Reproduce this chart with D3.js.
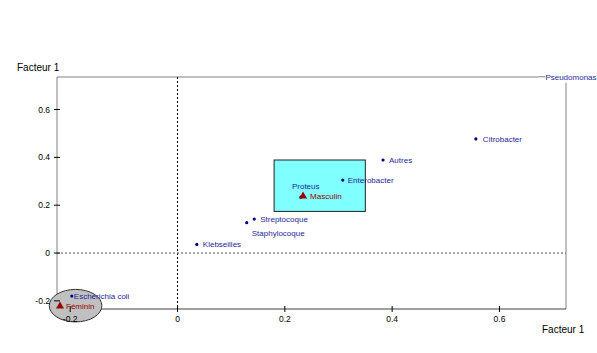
<!DOCTYPE html>
<html>
<head>
<meta charset="utf-8">
<script src="https://cdn.jsdelivr.net/npm/d3@7"></script>
<style>
  body { margin: 0; background: #fff; }
  text { font-family: "Liberation Sans", Arial, sans-serif; }
</style>
</head>
<body>
<div id="chart"></div>
<script>
// bacteria (blue points)
const germes = ['Pseudomonas', 'Citrobacter', 'Autres', 'Enterobacter', 'Proteus',
  'Streptocoque', 'Staphylocoque', 'Klebseilles', 'Escherichia coli'];
const germesX = [0.680, 0.556, 0.383, 0.308, 0.230, 0.143, 0.129, 0.036, -0.197];
const germesY = [0.737, 0.477, 0.389, 0.305, 0.234, 0.142, 0.127, 0.036, -0.180];

// sex modalities (red triangles)
const sexes = ['Masculin', 'Féminin'];
const sexesX = [0.234, -0.219];
const sexesY = [0.238, -0.222];

// zones around the modalities
const boxX = [0.180, 0.350], boxY = [0.174, 0.389];
const ellCx = -0.190, ellCy = -0.220, ellRx = 0.049, ellRy = 0.068;

const xTicks = [-0.2, 0, 0.2, 0.4, 0.6];
const yTicks = [-0.2, 0, 0.2, 0.4, 0.6];

// label placement (px offsets from the point)
const labelPos = {
  'Pseudomonas': [3, 0], 'Citrobacter': [7, 0], 'Autres': [6, 0], 'Enterobacter': [5, 0],
  'Proteus': [-9, -11], 'Streptocoque': [6, 0], 'Staphylocoque': [5, 10],
  'Klebseilles': [6, 0], 'Escherichia coli': [2, 0]
};

const W = 597, H = 353;
const svg = d3.select('#chart').append('svg').attr('width', W).attr('height', H);

const x = d3.scaleLinear().domain([-0.2246, 0.724]).range([57, 566]);
const y = d3.scaleLinear().domain([-0.234, 0.736]).range([309, 77]);

// frame
svg.append('line').attr('x1', 57).attr('x2', 57).attr('y1', 77).attr('y2', 309)
  .attr('stroke', '#808080');
svg.append('line').attr('x1', 57).attr('x2', 566).attr('y1', 77).attr('y2', 77)
  .attr('stroke', '#808080');
svg.append('line').attr('x1', 566).attr('x2', 566).attr('y1', 77).attr('y2', 309)
  .attr('stroke', '#808080');
svg.append('line').attr('x1', 57).attr('x2', 566).attr('y1', 309).attr('y2', 309)
  .attr('stroke', '#404040');

// zero lines
svg.append('line').attr('x1', x(0)).attr('x2', x(0)).attr('y1', 77).attr('y2', 309)
  .attr('stroke', '#000').attr('stroke-dasharray', '2,2');
svg.append('line').attr('x1', 57).attr('x2', 566).attr('y1', y(0)).attr('y2', y(0))
  .attr('stroke', '#555').attr('stroke-dasharray', '2,2');

// zones
svg.append('rect')
  .attr('x', x(boxX[0])).attr('y', y(boxY[1]))
  .attr('width', x(boxX[1]) - x(boxX[0])).attr('height', y(boxY[0]) - y(boxY[1]))
  .attr('fill', '#80ffff').attr('stroke', '#222');
svg.append('ellipse')
  .attr('cx', x(ellCx)).attr('cy', y(ellCy))
  .attr('rx', x(ellRx) - x(0)).attr('ry', y(0) - y(ellRy))
  .attr('fill', '#c0c0c0').attr('stroke', '#333');

// ticks
const tk = svg.append('g').attr('font-size', 8.5).attr('fill', '#000');
xTicks.forEach(v => {
  tk.append('line').attr('x1', x(v)).attr('x2', x(v)).attr('y1', 306).attr('y2', 312).attr('stroke', '#000');
  tk.append('text').attr('x', x(v)).attr('y', 322).attr('text-anchor', 'middle').text(v);
});
yTicks.forEach(v => {
  tk.append('line').attr('x1', 54).attr('x2', 60).attr('y1', y(v)).attr('y2', y(v)).attr('stroke', '#000');
  tk.append('text').attr('x', 50).attr('y', y(v) + 3).attr('text-anchor', 'end').text(v);
});

// axis titles
svg.append('text').attr('x', 17).attr('y', 71).attr('font-size', 10).text('Facteur 1');
svg.append('text').attr('x', 542).attr('y', 333).attr('font-size', 10).text('Facteur 1');

// bacteria
const g = svg.append('g').selectAll('g').data(germes).join('g')
  .attr('transform', (d, i) => `translate(${x(germesX[i])},${y(germesY[i])})`);
g.append('circle').attr('r', 1.6).attr('fill', '#000080');
g.each(function(d) {
  const sel = d3.select(this);
  const [dx, dy] = labelPos[d];
  if (d === 'Pseudomonas') {
    // label box sits over the frame corner and the point
    sel.append('rect').attr('x', -4).attr('y', -7).attr('width', 64).attr('height', 13).attr('fill', '#fff');
    sel.append('line').attr('x1', -4).attr('x2', dx).attr('y1', 0).attr('y2', 0).attr('stroke', '#808080');
  }
  sel.append('text').attr('x', dx).attr('y', dy + 3)
    .attr('font-size', 8).attr('fill', '#1f1f99').text(d);
});

// sexes
const s = svg.append('g').selectAll('g').data(sexes).join('g')
  .attr('transform', (d, i) => `translate(${x(sexesX[i])},${y(sexesY[i])})`);
s.append('path').attr('d', d3.symbol(d3.symbolTriangle, 28)).attr('fill', '#990000');
s.append('text').attr('x', (d, i) => i === 0 ? 7 : 6).attr('y', 3)
  .attr('font-size', 8).attr('fill', '#990000').text(d => d);
</script>
</body>
</html>
